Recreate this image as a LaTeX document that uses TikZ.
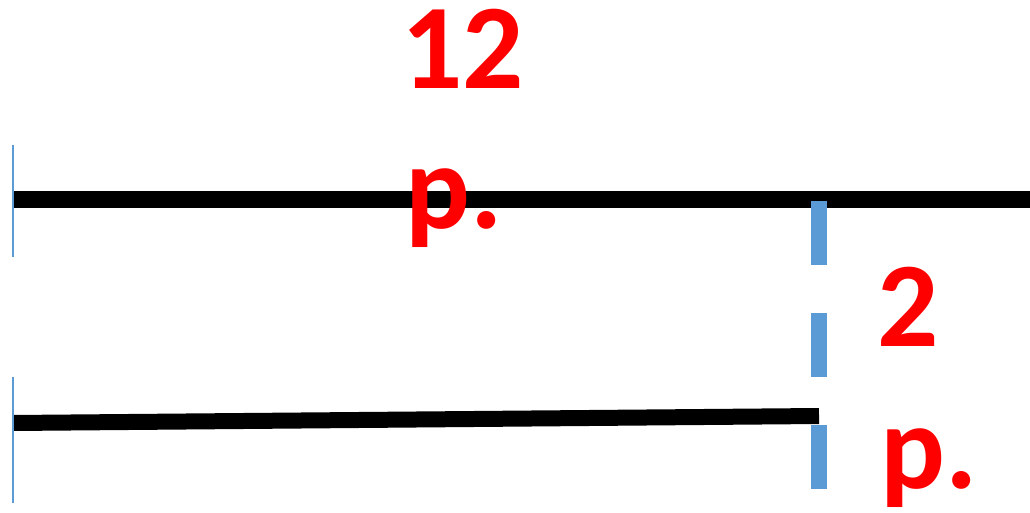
\documentclass[tikz,border=0pt]{standalone}
\usepackage{fontspec}
\setmainfont{Carlito}
\definecolor{tickblue}{HTML}{5B9BD5}
\definecolor{lblred}{HTML}{FF0000}
\tikzset{
  bar/.style={line width=16pt, black, line cap=butt},
  thintick/.style={line width=2pt, tickblue},
  dashmark/.style={line width=16pt, tickblue, dash pattern=on 64pt off 48pt},
  lbl/.style={inner sep=0pt, anchor=base west, text=lblred, font=\fontsize{121}{144}\selectfont\bfseries}
}
\begin{document}
\begin{tikzpicture}[x=1pt,y=-1pt]
\useasboundingbox[fill=white] (0,0) rectangle (1030,513);
% coordinates
\coordinate (t0) at (13,199.5);
\coordinate (t1) at (1030,199.5);
\coordinate (b0) at (13,423);
\coordinate (b1) at (819,416);
\coordinate (lt0) at (13,145);
\coordinate (lt1) at (13,257);
\coordinate (lb0) at (13,377);
\coordinate (lb1) at (13,503);
\coordinate (d0) at (819,201);
\coordinate (d1) at (819,489);
% lines
\draw[bar] (t0) -- (t1);
\draw[bar] (b0) -- (b1);
\draw[thintick] (lt0) -- (lt1);
\draw[thintick] (lb0) -- (lb1);
\draw[dashmark] (d0) -- (d1);
% labels
\node[lbl] (n12) at (401,89) {12};
\node[lbl] (p1) at (405,229) {p.};
\node[lbl] (n2) at (877,346) {2};
\node[lbl] (p2) at (880,488) {p.};
\end{tikzpicture}
\end{document}
